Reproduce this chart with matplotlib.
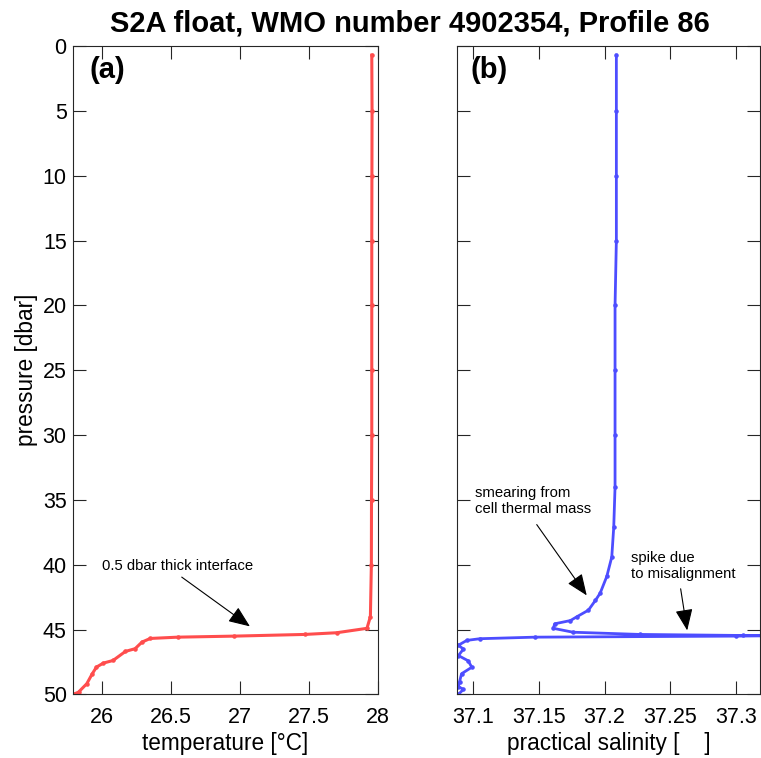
import numpy as np
import matplotlib.pyplot as plt

plt.rcParams['font.family'] = ['Liberation Sans', 'DejaVu Sans']

# temperature profile (panel a)
temp_p = [0.7, 5, 10, 15, 20, 25, 30, 35, 40, 44.0, 44.9, 45.24, 45.37, 45.5, 45.58, 45.68,
          45.96, 46.47, 46.68, 47.38, 47.58, 47.89, 48.4, 49.17, 49.82, 50.0]
temp_T = [27.955, 27.957, 27.956, 27.955, 27.955, 27.955, 27.955, 27.953, 27.952, 27.945, 27.92,
          27.70, 27.47, 26.96, 26.55, 26.35, 26.29, 26.24, 26.17, 26.08, 26.01, 25.96, 25.93,
          25.89, 25.83, 25.79]

# salinity profile (panel b)
sal_p = [0.7, 5, 10, 15, 20, 25, 30, 34, 37.1, 39.4, 40.9, 42.2, 42.75, 43.5, 44.0, 44.3, 44.55,
         44.9, 45.2, 45.37, 45.45, 45.47, 45.5, 45.58, 45.7, 45.83, 46.2, 46.5, 47.0, 47.4, 47.9,
         48.4, 49.0, 49.4, 49.6, 50.0]
sal_S = [37.209, 37.209, 37.209, 37.209, 37.208, 37.208, 37.208, 37.208, 37.207, 37.2055,
         37.2017, 37.1966, 37.193, 37.1877, 37.179, 37.174, 37.162, 37.161, 37.176, 37.227,
         37.3056, 37.33, 37.30, 37.147, 37.105, 37.095, 37.0886, 37.0924, 37.0886, 37.096,
         37.0988, 37.091, 37.0895, 37.0886, 37.0924, 37.0886]

temp_ticks = [26, 26.5, 27, 27.5, 28]
sal_ticks = [37.1, 37.15, 37.2, 37.25, 37.3]
p_ticks = list(range(0, 51, 5))

fig = plt.figure(figsize=(7.61, 7.58), dpi=100)
ax1 = fig.add_axes([0.0959, 0.0838, 0.4008, 0.8555])
ax2 = fig.add_axes([0.601, 0.0838, 0.3977, 0.8555])

axcol = '#262626'
for ax in (ax1, ax2):
    ax.set_ylim(50, 0)
    ax.set_yticks(p_ticks)
    ax.tick_params(direction='in', length=9.5, width=0.8, color=axcol, labelsize=15.5,
                   top=True, right=True, pad=9, labelcolor='black')
    ax.tick_params(axis='y', pad=4.5)
    for s in ax.spines.values():
        s.set_color(axcol)
        s.set_linewidth(0.8)

ax1.plot(temp_T, temp_p, color='#ff4d4d', lw=2.2, marker='.', ms=4.5)
ax1.set_xlim(25.79, 28)
ax1.set_xticks(temp_ticks)
ax1.set_xticklabels(['26', '26.5', '27', '27.5', '28'])
ax1.set_xlabel('temperature [°C]', fontsize=16.3, labelpad=3)
ax1.set_ylabel('pressure [dbar]', fontsize=16.3, labelpad=3)
ax1.text(0.055, 0.985, '(a)', transform=ax1.transAxes, fontsize=21, fontweight='bold',
         va='top', ha='left')

ax2.plot(sal_S, sal_p, color='#4d4dff', lw=2, marker='.', ms=4.5)
ax2.set_xlim(37.0878, 37.3185)
ax2.set_xticks(sal_ticks)
ax2.set_xticklabels(['37.1', '37.15', '37.2', '37.25', '37.3'])
ax2.set_yticklabels([])
ax2.set_xlabel('practical salinity [    ]', fontsize=16.3, labelpad=3)
ax2.text(0.045, 0.985, '(b)', transform=ax2.transAxes, fontsize=21, fontweight='bold',
         va='top', ha='left')

arrow = dict(arrowstyle='-|>,head_length=1.1,head_width=0.45', color='black', lw=0.8,
             mutation_scale=12, shrinkA=0, shrinkB=0)
ax1.annotate('', xy=(27.072, 44.75), xytext=(26.578, 40.95), arrowprops=arrow)
ax1.text(25.998, 40.1, '0.5 dbar thick interface', fontsize=10.7, va='center', ha='left')

ax2.annotate('', xy=(37.1864, 42.36), xytext=(37.1483, 36.9), arrowprops=arrow)
ax2.text(37.1013, 35.1, 'smearing from\ncell thermal mass', fontsize=10.7, va='center',
         ha='left', linespacing=1.2)
ax2.annotate('', xy=(37.263, 45.06), xytext=(37.258, 41.85), arrowprops=arrow)
ax2.text(37.2202, 40.1, 'spike due\nto misalignment', fontsize=10.7, va='center',
         ha='left', linespacing=1.2)

fig.text(0.539, 0.969, 'S2A float, WMO number 4902354, Profile 86', fontsize=21,
         fontweight='bold', ha='center', va='center')

fig.savefig('out.png', dpi=100)
